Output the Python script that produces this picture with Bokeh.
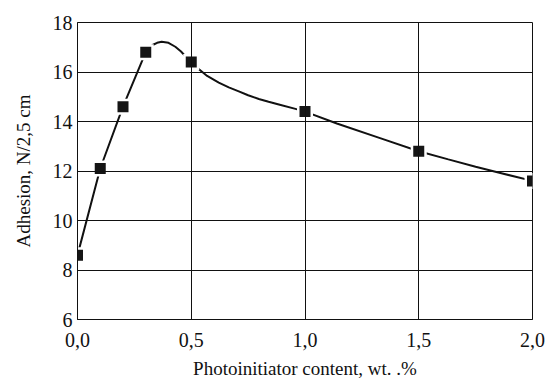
from bokeh.plotting import figure
from bokeh.embed import file_html
from bokeh.resources import INLINE
from bokeh.models import FixedTicker, Range1d

# measured points
content = [0.0, 0.1, 0.2, 0.3, 0.5, 1.0, 1.5, 2.0]
adhesion = [8.6, 12.1, 14.6, 16.8, 16.4, 14.4, 12.8, 11.6]

# smooth curve
curve_x = [0.0, 0.1, 0.2, 0.3, 0.33, 0.35, 0.37, 0.40, 0.43, 0.455, 0.475, 0.5,
           0.526, 0.57, 0.621, 0.665, 0.709, 0.75, 0.797, 0.84, 0.885, 0.958, 1.0,
           1.14, 1.33, 1.5, 1.63, 1.75, 1.85, 2.0]
curve_y = [8.6, 12.1, 14.6, 16.8, 17.09, 17.18, 17.22, 17.18, 17.02, 16.83, 16.63, 16.4,
           16.17, 15.84, 15.57, 15.38, 15.22, 15.06, 14.91, 14.8, 14.69, 14.51, 14.4,
           13.92, 13.33, 12.8, 12.47, 12.17, 11.94, 11.6]

x_ticks = [0.0, 0.5, 1.0, 1.5, 2.0]
x_tick_labels = ["0,0", "0,5", "1,0", "1,5", "2,0"]
y_ticks = [6, 8, 10, 12, 14, 16, 18]

FONT = "Liberation Serif"

p = figure(width=545, height=381, output_backend="svg", toolbar_location=None,
           x_range=Range1d(0, 2.0), y_range=Range1d(6, 18),
           min_border_left=77, min_border_right=13, min_border_top=22, min_border_bottom=56)

p.background_fill_color = "white"
p.border_fill_color = "white"
p.outline_line_color = "#111111"
p.outline_line_width = 1

# curve and white halos below grid
p.line(curve_x, curve_y, line_color="#111111", line_width=2, level="underlay")
p.scatter(content, adhesion, marker="square", size=16, fill_color="white",
          line_color=None, level="underlay")
p.scatter(content, adhesion, marker="square", size=11, fill_color="#151515",
          line_color=None, level="glyph")

for g in (p.xgrid, p.ygrid):
    g.grid_line_color = "#111111"
    g.grid_line_width = 1
    g.level = "glyph"
p.xgrid.ticker = FixedTicker(ticks=x_ticks)
p.ygrid.ticker = FixedTicker(ticks=y_ticks)

p.xaxis.ticker = FixedTicker(ticks=x_ticks)
p.xaxis.major_label_overrides = {t: l for t, l in zip(x_ticks, x_tick_labels)}
p.yaxis.ticker = FixedTicker(ticks=y_ticks)

for ax in (p.xaxis, p.yaxis):
    ax.axis_line_color = "#111111"
    ax.axis_line_width = 1
    ax.major_tick_in = 0
    ax.major_tick_out = 0
    ax.minor_tick_line_color = None
    ax.major_label_text_font = FONT
    ax.major_label_text_font_size = "20px"
    ax.major_label_text_color = "#111111"
    ax.axis_label_text_font = FONT
    ax.axis_label_text_font_size = "19px"
    ax.axis_label_text_font_style = "normal"
    ax.axis_label_text_color = "#111111"

p.xaxis.axis_label = "Photoinitiator content, wt. .%"
p.yaxis.axis_label = "Adhesion, N/2,5 cm"
p.xaxis.major_label_standoff = 13
p.yaxis.major_label_standoff = 5
p.xaxis.axis_label_standoff = 8
p.yaxis.axis_label_standoff = 16

open("out.html", "w").write(file_html(p, INLINE))
